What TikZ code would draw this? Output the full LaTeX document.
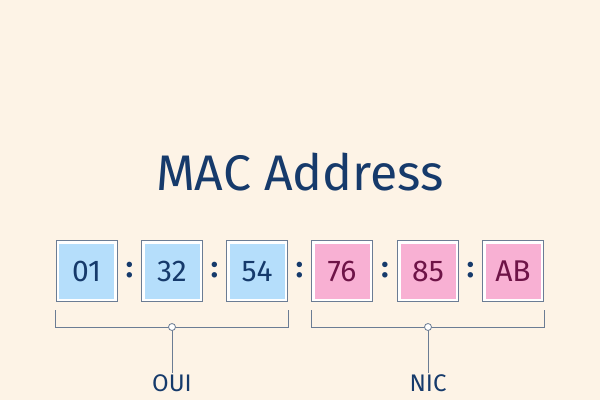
\documentclass[tikz,border=0pt]{standalone}
\usepackage{fontspec}
\setmainfont{Fira Sans}
\definecolor{bg}{HTML}{FDF3E6}
\definecolor{navy}{HTML}{163A6B}
\definecolor{bluef}{HTML}{B5DEFB}
\definecolor{pinkf}{HTML}{F8B0D3}
\definecolor{pinkt}{HTML}{6E1447}
\definecolor{edge}{HTML}{6B7C94}
\begin{document}
\begin{tikzpicture}[x=1pt,y=-1pt,
  byte/.style={draw=edge,line width=0.8pt,minimum width=61pt,minimum height=61pt,inner sep=0pt,font=\fontsize{30}{32}\selectfont,
    path picture={\fill[#1] ([xshift=3pt,yshift=3pt]path picture bounding box.south west) rectangle ([xshift=-3pt,yshift=-3pt]path picture bounding box.north east);}},
  colon/.style={text=navy,font=\fontsize{30}{32}\selectfont\bfseries,inner sep=0pt},
  brk/.style={draw=edge,line width=0.8pt},
  lbl/.style={text=navy,font=\fontsize{24}{26}\selectfont}]
\fill[bg] (0,0) rectangle (600,400);
\node[text=navy,font=\fontsize{50}{56}\selectfont] (title) at (300,172) {MAC Address};
\node[byte=bluef,fill=white,text=navy] (b1) at (86.5,271) {01};
\node[byte=bluef,fill=white,text=navy] (b2) at (172,271) {32};
\node[byte=bluef,fill=white,text=navy] (b3) at (257,271) {54};
\node[byte=pinkf,fill=white,text=pinkt] (b4) at (342,271) {76};
\node[byte=pinkf,fill=white,text=pinkt] (b5) at (428,271) {85};
\node[byte=pinkf,fill=white,text=pinkt] (b6) at (513,271) {AB};
\node[colon] (c1) at (129.5,270) {:};
\node[colon] (c2) at (214.5,270) {:};
\node[colon] (c3) at (299.5,270) {:};
\node[colon] (c4) at (385,270) {:};
\node[colon] (c5) at (470.5,270) {:};
\coordinate (o) at (172,327);
\coordinate (n) at (428,327);
\draw[brk] (b1.west |- 0,310) -- (b1.west |- o) -- (b3.east |- o) -- (b3.east |- 0,310);
\draw[brk] (b4.west |- 0,310) -- (b4.west |- n) -- (b6.east |- n) -- (b6.east |- 0,310);
\node[lbl,inner sep=1pt] (oui) at (172,383) {OUI};
\node[lbl,inner sep=1pt] (nic) at (428,383) {NIC};
\draw[brk] (o) -- (oui.north);
\draw[brk] (n) -- (nic.north);
\draw[brk,fill=white] (o) circle (3.5pt);
\draw[brk,fill=white] (n) circle (3.5pt);
\end{tikzpicture}
\end{document}
